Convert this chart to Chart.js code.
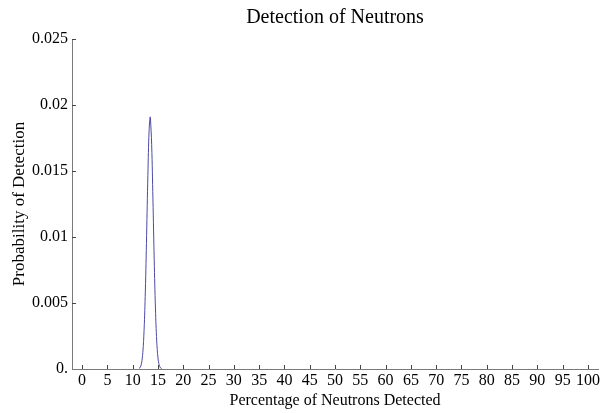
<!DOCTYPE html>
<html>
<head>
<meta charset="utf-8">
<script src="https://cdn.jsdelivr.net/npm/chart.js@4.4.1/dist/chart.umd.min.js"></script>
<style>
  html, body { margin: 0; padding: 0; background: #fff; }
  #wrap { width: 602px; height: 413px; }
</style>
</head>
<body>
<div id="wrap"><canvas id="neutron-chart"></canvas></div>
<script>
// values
var percent = [11.25, 11.5, 11.75, 12, 12.25, 12.5, 12.75, 13, 13.25, 13.45, 13.5, 13.75, 14, 14.25, 14.5, 14.75, 15, 15.25, 15.5, 15.75];
var probability = [0.000035, 0.000136, 0.000445, 0.00124, 0.00294, 0.0059, 0.0101, 0.01467, 0.01813, 0.0191, 0.01904, 0.01699, 0.01289, 0.00831, 0.00455, 0.00212, 0.000839, 0.000282, 0.000081, 0.00002];

var xTicks = [0, 5, 10, 15, 20, 25, 30, 35, 40, 45, 50, 55, 60, 65, 70, 75, 80, 85, 90, 95, 100];
var yTicks = [0, 0.005, 0.01, 0.015, 0.02, 0.025];
var yTickLabels = ["0.", "0.005", "0.01", "0.015", "0.02", "0.025"];

var axisGray = "#7a7a7a";
var serif = "'Liberation Serif', 'Times New Roman', serif";

// Mathematica-style ticks pointing into the plot
var innerTicks = {
    id: "innerTicks",
    afterDraw: function(chart) {
        var c = chart.ctx, area = chart.chartArea;
        var xs = chart.scales.x, ys = chart.scales.y;
        c.save();
        c.strokeStyle = "#444";
        c.lineWidth = 1;
        c.beginPath();
        xTicks.forEach(function(v) {
            var px = Math.round(xs.getPixelForValue(v)) + 0.5;
            c.moveTo(px, area.bottom);
            c.lineTo(px, area.bottom - 4);
        });
        yTicks.forEach(function(v) {
            if (v === 0) return;
            var py = Math.round(ys.getPixelForValue(v)) + 0.5;
            c.moveTo(area.left, py);
            c.lineTo(area.left + 4, py);
        });
        c.stroke();
        c.restore();
    }
};

var chartData = {
    datasets: [{
        label: "Probability",
        data: percent.map(function(p, i) { return { x: p, y: probability[i] }; }),
        borderColor: "#4a4aa6",
        borderWidth: 1,
        pointRadius: 0,
        tension: 0.4,
        fill: false
    }]
};

var chartOptions = {
    responsive: true,
    maintainAspectRatio: false,
    animation: false,
    layout: { padding: { left: 0, right: 1, top: 0, bottom: 0 } },
    plugins: {
        legend: { display: false },
        tooltip: { enabled: false },
        title: {
            display: true,
            fullSize: false,
            text: "Detection of Neutrons",
            color: "#000",
            font: { family: serif, size: 20, weight: "normal" },
            padding: { top: 6, bottom: 9 }
        }
    },
    scales: {
        x: {
            type: "linear",
            min: -2,
            max: 102,
            afterBuildTicks: function(axis) {
                axis.ticks = xTicks.map(function(v) { return { value: v }; });
            },
            afterFit: function(axis) { axis.height = 44; },
            grid: { display: false, drawTicks: false },
            border: { display: true, color: axisGray, width: 1 },
            ticks: {
                autoSkip: false,
                maxRotation: 0,
                padding: 2,
                color: "#000",
                font: { family: serif, size: 16 }
            },
            title: {
                display: true,
                text: "Percentage of Neutrons Detected",
                color: "#000",
                font: { family: serif, size: 16 },
                padding: { top: 0, bottom: 3 }
            }
        },
        y: {
            type: "linear",
            min: 0,
            max: 0.025,
            afterBuildTicks: function(axis) {
                axis.ticks = yTicks.map(function(v) { return { value: v }; });
            },
            afterFit: function(axis) { axis.width = 72; },
            grid: { display: false, drawTicks: false },
            border: { display: true, color: axisGray, width: 1 },
            ticks: {
                padding: 4,
                color: "#000",
                font: { family: serif, size: 16 },
                callback: function(value) {
                    var i = yTicks.indexOf(value);
                    return i >= 0 ? yTickLabels[i] : "";
                }
            },
            title: {
                display: true,
                text: "Probability of Detection",
                color: "#000",
                font: { family: serif, size: 17 },
                padding: { top: 9, bottom: 0 }
            }
        }
    }
};

var config = {
    type: "line",
    options: chartOptions,
    data: chartData,
    plugins: [innerTicks]
};

var neutronChart = new Chart(document.getElementById("neutron-chart"), config);
</script>
</body>
</html>
